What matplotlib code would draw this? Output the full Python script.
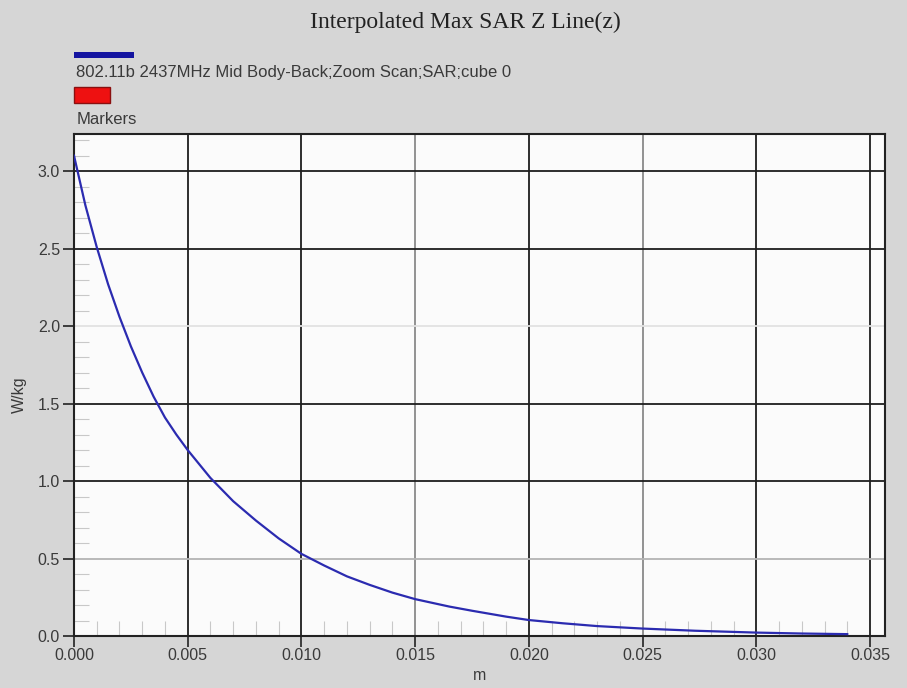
import matplotlib
matplotlib.use("Agg")
import matplotlib.pyplot as plt
from matplotlib.patches import Rectangle
from matplotlib.ticker import MultipleLocator, FormatStrFormatter

# ---- data ----
z_m = [0.0, 0.0005, 0.001, 0.0015, 0.002, 0.0025, 0.003, 0.0035, 0.004,
       0.0045, 0.005, 0.006, 0.007, 0.008, 0.009, 0.010, 0.011, 0.012,
       0.013, 0.014, 0.015, 0.0165, 0.0175, 0.019, 0.020, 0.0215, 0.023,
       0.025, 0.0273, 0.030, 0.032, 0.034]
sar_wkg = [3.10, 2.78, 2.51, 2.27, 2.06, 1.87, 1.70, 1.545, 1.41,
           1.30, 1.20, 1.02, 0.87, 0.745, 0.63, 0.53, 0.455, 0.385,
           0.33, 0.28, 0.238, 0.19, 0.163, 0.125, 0.103, 0.082, 0.064,
           0.048, 0.034, 0.022, 0.016, 0.012]
x_ticks = [0.000, 0.005, 0.010, 0.015, 0.020, 0.025, 0.030, 0.035]
y_ticks = [0.0, 0.5, 1.0, 1.5, 2.0, 2.5, 3.0]
title = "Interpolated Max SAR Z Line(z)"
series_label = "802.11b 2437MHz Mid Body-Back;Zoom Scan;SAR;cube 0"
markers_label = "Markers"

# grid line shades (as in the reference rendering)
x_grid_colors = ["none", "#1e1e1e", "#1e1e1e", "#8a8a8a", "#1e1e1e", "#8a8a8a", "#1e1e1e", "#1e1e1e"]
y_grid_colors = ["none", "#b4b4b4", "#1e1e1e", "#1e1e1e", "#e2e2e2", "#1e1e1e", "#1e1e1e"]

bg = "#d6d6d6"
W, H = 907, 688
fig = plt.figure(figsize=(W / 100, H / 100), dpi=100, facecolor=bg)
ax = fig.add_axes([74 / W, 1 - 636 / H, (885 - 74) / W, (636 - 134) / H])
ax.set_facecolor("#fbfbfb")

for xv, c in zip(x_ticks, x_grid_colors):
    if c != "none":
        ax.axvline(xv, color=c, lw=1.3, zorder=1)
for yv, c in zip(y_ticks, y_grid_colors):
    if c != "none":
        ax.axhline(yv, color=c, lw=1.3, zorder=1)

ax.plot(z_m, sar_wkg, color="#2b2bb0", lw=1.6, zorder=3)

ax.set_xlim(0, 0.03566)
ax.set_ylim(0, 3.24)
ax.set_xticks(x_ticks)
ax.set_yticks(y_ticks)
ax.xaxis.set_major_formatter(FormatStrFormatter("%.3f"))
ax.yaxis.set_major_formatter(FormatStrFormatter("%.1f"))
ax.xaxis.set_minor_locator(MultipleLocator(0.001))
ax.yaxis.set_minor_locator(MultipleLocator(0.1))

txt_col = "#3a3a3a"
fs = 11.5
ax.tick_params(which="major", direction="out", length=8, width=1.2, color="#222222",
               labelsize=fs, labelcolor=txt_col, pad=2)
ax.tick_params(axis="x", which="major", pad=1)
ax.tick_params(which="minor", direction="in", length=11, width=0.8, color="#c8c8c8")
for lab in ax.get_xticklabels() + ax.get_yticklabels():
    lab.set_family("Liberation Sans")

for s in ax.spines.values():
    s.set_color("#222222")
    s.set_linewidth(1.5)

lab_font = dict(family="Liberation Sans", size=fs, color=txt_col)
ax.set_xlabel("m", fontdict=lab_font, labelpad=3)
ax.set_ylabel("W/kg", fontdict=lab_font)
ax.yaxis.set_label_coords(-0.058, 0.48)

fig.text(465 / W, 1 - 22 / H, title, ha="center", va="center",
         family="Liberation Serif", size=17, color="#222222")

# legend (drawn in figure coordinates like the original header)
fig.patches.append(Rectangle((74 / W, 1 - 58 / H), 60 / W, 6 / H,
                             transform=fig.transFigure, facecolor="#1414a0",
                             edgecolor="none"))
fig.text(76 / W, 1 - 73 / H, series_label, ha="left", va="center",
         family="Liberation Sans", size=12, color=txt_col)
fig.patches.append(Rectangle((74 / W, 1 - 103 / H), 36 / W, 16 / H,
                             transform=fig.transFigure, facecolor="#ee1111",
                             edgecolor="#8a1010", lw=1))
fig.text(77 / W, 1 - 119 / H, markers_label, ha="left", va="center",
         family="Liberation Sans", size=12, color=txt_col)

fig.savefig("out.png", dpi=100, facecolor=bg)
